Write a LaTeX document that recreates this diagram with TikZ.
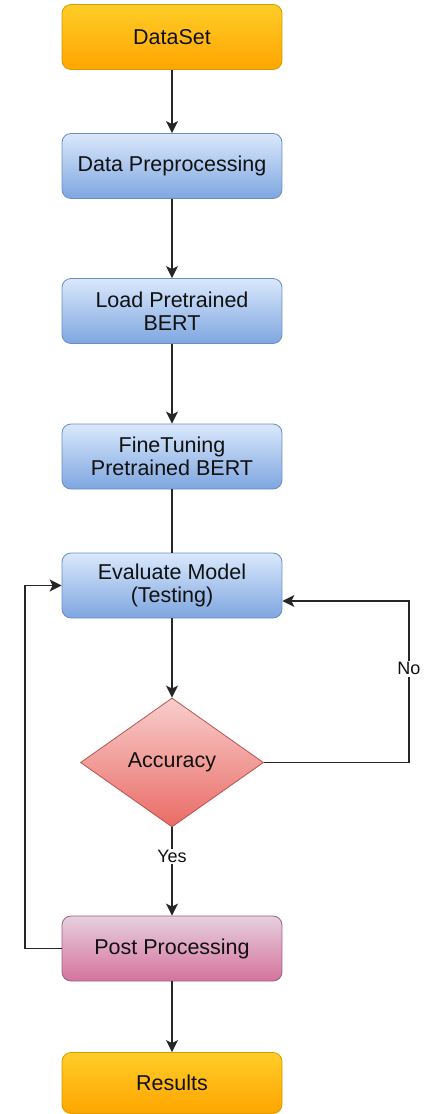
\documentclass[tikz,border=0pt]{standalone}
\usepackage{fontspec}
\setmainfont{Liberation Sans}
\usetikzlibrary{shapes.geometric,arrows.meta}
\definecolor{txt}{HTML}{111111}
\definecolor{orTop}{HTML}{FFCD28}
\definecolor{orBot}{HTML}{FFA500}
\definecolor{orDraw}{HTML}{D79B00}
\definecolor{blTop}{HTML}{DAE8FC}
\definecolor{blBot}{HTML}{7EA6E0}
\definecolor{blDraw}{HTML}{6C8EBF}
\definecolor{rdTop}{HTML}{F8CECC}
\definecolor{rdBot}{HTML}{EA6B66}
\definecolor{rdDraw}{HTML}{B85450}
\definecolor{pkTop}{HTML}{E6D0DE}
\definecolor{pkBot}{HTML}{D5739D}
\definecolor{pkDraw}{HTML}{996185}
\tikzset{
  box/.style={rectangle, rounded corners=9pt, minimum width=220pt, minimum height=65pt,
    inner sep=0pt, align=center, text=txt, line width=0.8pt,
    font=\fontsize{21.5}{23}\selectfont},
  orangebox/.style={box, top color=orTop, bottom color=orBot, draw=orDraw},
  bluebox/.style={box, top color=blTop, bottom color=blBot, draw=blDraw},
  pinkbox/.style={box, top color=pkTop, bottom color=pkBot, draw=pkDraw},
  decision/.style={diamond, aspect=1.4, minimum width=183pt, minimum height=129pt,
    inner sep=0pt, top color=rdTop, bottom color=rdBot, draw=rdDraw, line width=0.8pt,
    text=txt, font=\fontsize{21.5}{23}\selectfont},
  conn/.style={line width=1.6pt, draw=black!85},
  arr/.style={conn, -{Stealth[length=12pt,width=12pt,inset=3pt]}},
  lbl/.style={fill=white, inner sep=1.5pt, text=txt, font=\fontsize{18}{20}\selectfont}
}
\begin{document}
\begin{tikzpicture}[x=1pt,y=-1pt]
\useasboundingbox[fill=white] (0,0) rectangle (429,1114);
\node[orangebox] (ds) at (172,37) {DataSet};
\node[bluebox] (dp) at (172,166) {Data Preprocessing};
\node[bluebox] (lp) at (172,311) {Load Pretrained\\BERT};
\node[bluebox] (ft) at (172,456.5) {FineTuning\\Pretrained BERT};
\node[bluebox] (ev) at (172,585.5) {Evaluate Model\\(Testing)};
\node[decision] (acc) at (172,762.5) {Accuracy};
\node[pinkbox] (pp) at (172,948.5) {Post Processing};
\node[orangebox, minimum height=61pt] (rs) at (172,1083) {Results};
\coordinate (nr) at (409,762.5);
\coordinate (nt) at (409,601);
\coordinate (lb) at (25,948.5);
\coordinate (lt) at (25,585.5);
\draw[arr] (ds) -- (dp);
\draw[arr] (dp) -- (lp);
\draw[arr] (lp) -- (ft);
\draw[conn] (ft) -- (ev);
\draw[arr] (ev) -- (acc);
\draw[arr] (acc) -- node[lbl, pos=0.33] {Yes} (pp);
\draw[arr] (pp) -- (rs);
\draw[arr] (acc.east) -- (nr) -- node[lbl, pos=0.58] {No} (nt) -- (ev.east |- nt);
\draw[arr] (pp.west) -- (lb) -- (lt) -- (ev.west);
\end{tikzpicture}
\end{document}
